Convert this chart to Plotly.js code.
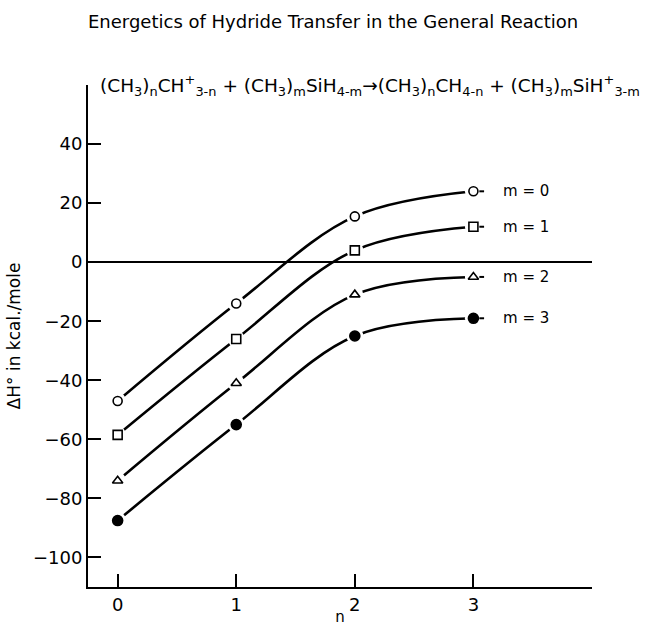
<!DOCTYPE html>
<html>
<head>
<meta charset="utf-8">
<script src="https://cdn.plot.ly/plotly-3.0.1.min.js"></script>
<style>html,body{margin:0;padding:0;background:#fff;}#chart{width:648px;height:626px;}</style>
</head>
<body>
<div id="chart"></div>
<script>
// Data
const nValues = [0, 1, 2, 3];
const m0 = [-47, -14, 15.5, 24];
const m1 = [-58.5, -26, 4, 12];
const m2 = [-74, -41, -11, -5];
const m3 = [-87.5, -55, -25, -19];
const seriesLabels = ['m = 0', 'm = 1', 'm = 2', 'm = 3'];
const xTicks = [0, 1, 2, 3];
const yTicks = [-100, -80, -60, -40, -20, 0, 20, 40];

const FONT = 'DejaVu Sans, Liberation Sans, sans-serif';
const series = [m0, m1, m2, m3];
const symbols = ['circle-open', 'square-open', 'triangle-up-open', 'circle'];

const traces = [];
// lines
series.forEach(s => traces.push({
  x: nValues, y: s, mode: 'lines', type: 'scatter',
  line: {color: '#000', width: 2.6, shape: 'spline', smoothing: 1.0},
  hoverinfo: 'skip', showlegend: false
}));
// white halos to create gaps around markers
series.forEach(s => traces.push({
  x: nValues, y: s, mode: 'markers', type: 'scatter',
  marker: {symbol: 'circle', size: 17, color: '#fff', line: {width: 0}},
  hoverinfo: 'skip', showlegend: false
}));
// markers
series.forEach((s, i) => traces.push({
  x: nValues, y: s, mode: 'markers', type: 'scatter',
  marker: {symbol: symbols[i], size: i === 3 ? 10 : 9, color: '#000', line: {color: '#000', width: 1.6}},
  showlegend: false
}));

const last = nValues.length - 1;
const shapes = series.map(s => ({
  type: 'line', xref: 'x', yref: 'y', x0: nValues[last] + 0.05, x1: nValues[last] + 0.09,
  y0: s[last], y1: s[last], line: {color: '#000', width: 2}
}));
const annotations = series.map((s, i) => ({
  x: nValues[last] + 0.23, y: s[last], xref: 'x', yref: 'y', text: seriesLabels[i],
  showarrow: false, xanchor: 'left', yanchor: 'middle', font: {family: FONT, size: 15, color: '#000'}
}));
annotations.push({
  xref: 'paper', yref: 'paper', x: 0.02, y: 1.0, xanchor: 'left', yanchor: 'middle', showarrow: false,
  text: '(CH<sub>3</sub>)<sub>n</sub>CH<sup>+</sup><sub>3-n</sub> + (CH<sub>3</sub>)<sub>m</sub>SiH<sub>4-m</sub>→(CH<sub>3</sub>)<sub>n</sub>CH<sub>4-n</sub> + (CH<sub>3</sub>)<sub>m</sub>SiH<sup>+</sup><sub>3-m</sub>',
  font: {family: FONT, size: 18.5, color: '#000'}
});

const layout = {
  width: 648, height: 626,
  margin: {l: 88, r: 56, t: 85, b: 39},
  paper_bgcolor: '#fff', plot_bgcolor: '#fff',
  font: {family: FONT, color: '#000', size: 15},
  title: {text: 'Energetics of Hydride Transfer in the General Reaction', xref: 'container', yref: 'container',
          x: 0.514, y: 0.965, xanchor: 'center', yanchor: 'middle', font: {family: FONT, size: 18, color: '#000'}},
  xaxis: {range: [-0.25, 4.0], tickvals: xTicks, ticktext: xTicks.map(String), ticks: 'inside', ticklen: 13, tickwidth: 2,
          tickcolor: '#000', showline: true, linecolor: '#000', linewidth: 2, showgrid: false, zeroline: false,
          title: {text: 'n', standoff: 12, font: {family: FONT, size: 15}}, tickfont: {family: FONT, size: 18}},
  yaxis: {range: [-110, 60], tickvals: yTicks, ticks: 'inside', ticklen: 13, tickwidth: 2, tickcolor: '#000',
          showline: true, linecolor: '#000', linewidth: 2, showgrid: false, zeroline: true, zerolinecolor: '#000', zerolinewidth: 2,
          title: {text: 'ΔH° in kcal./mole', standoff: 8, font: {family: FONT, size: 17}}, tickfont: {family: FONT, size: 18}},
  shapes: shapes, annotations: annotations
};

Plotly.newPlot('chart', traces, layout, {displayModeBar: false, staticPlot: true});
</script>
</body>
</html>
